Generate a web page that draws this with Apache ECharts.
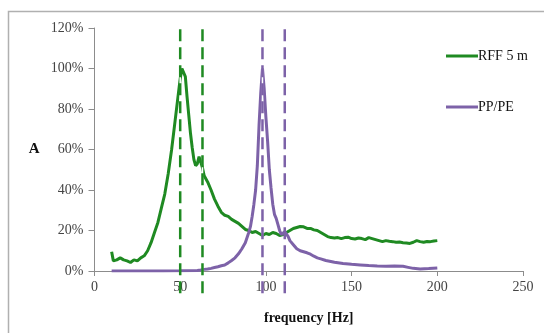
<!DOCTYPE html>
<html>
<head>
<meta charset="utf-8">
<script src="https://cdn.jsdelivr.net/npm/echarts@6/dist/echarts.min.js"></script>
<style>
html,body{margin:0;padding:0;background:#fff;}
#c{width:544px;height:333px;}
</style>
</head>
<body>
<div id="c"></div>
<script>
// RFF 5 m : frequency (Hz) and amplitude (%)
const rffFreq = [10,11,13,15,17,19,21,23,25,27,29,31,33,35,37,39,41,43,45,47,49,50,51,52,53,54,55,56,57,58,59,60,61,62,63,64,66,68,70,72,74,76,78,80,82,84,86,88,90,92,94,96,98,100,102,104,106,108,110,112,114,116,118,120,122,124,126,128,130,132,134,136,138,140,142,144,146,148,150,152,154,156,158,160,162,164,166,168,170,172,174,176,178,180,182,184,186,188,190,192,194,196,198,200];
const rffVal = [9.5,5,5.5,6.5,5.5,5,4.2,5.5,5,6.5,7.5,10,14,19,24,31,38,48,60,74,88,95,100,99.5,96,86,77,68,61,55,52,53,56.5,57,51,47,44,40,35.5,32,29,27.5,27,25.5,24.5,23.5,22,20.5,20,19,19.5,18.5,17.5,18.5,18,19,18.5,17.5,18,19,20,21,21.5,22,21.8,21,21,20.3,20,19,18,17,16.5,16.3,16.5,16,16.5,16.7,16,15.8,16.3,16,15.5,16.5,16,15.5,15,14.5,15,14.7,14.5,14.2,14.3,14,13.8,13.6,14.2,15,14.5,14.2,14.6,14.5,14.8,15];

// PP/PE : frequency (Hz) and amplitude (%)
const ppFreq = [10,20,30,40,50,60,62,64,66,68,70,72,74,76,78,80,82,84,86,88,90,91,92,93,94,95,96,97,98,99,100,101,102,103,104,105,106,107,108,109,110,111,112,113,114,116,118,120,122,124,126,128,130,132,135,140,145,150,155,160,165,170,175,180,183,186,190,195,200];
const ppVal = [0,0,0,0,0.1,0.3,0.5,0.8,1,1.3,1.7,2.1,2.6,3,4,5.2,6.5,8.5,11,14,19,22,27,33,40,52,72,88,100,90,76,64,50,41,33,28,26,23,20,18,18.5,19.5,20,17,15,13,11,10,9.5,9,8.3,7.3,6.5,6,5.2,4.3,3.7,3.3,3,2.7,2.5,2.4,2.5,2.3,1.8,1.3,1,1.2,1.5];

// vertical reference frequencies (Hz)
const rffMarks = [50, 63];
const ppMarks = [98, 111];
// vertical extent of the reference lines (% units)
const markSpan = [-11, 120];

const xTicks = [0, 50, 100, 150, 200, 250];
const yTicks = [0, 20, 40, 60, 80, 100, 120];

const GREEN = '#1f8a22';
const PURPLE = '#7d62a8';
const FONT = '"Liberation Serif","DejaVu Serif",serif';

function pairs(xs, ys){ return xs.map((x,i)=>[x, ys[i]]); }

function dashSeries(freqs, color){
  return {
    type:'custom', silent:true, clip:false, z:3,
    data: freqs.map(f=>[f]),
    encode:{x:0},
    renderItem:function(params, api){
      const f = api.value(0);
      const p1 = api.coord([f, markSpan[0]]);
      const p2 = api.coord([f, markSpan[1]]);
      const shape = {x1:p1[0], y1:p1[1], x2:p2[0], y2:p2[1]};
      return {
        type:'group',
        children:[
          {type:'line', shape:shape, style:{stroke:'#ffffff', lineWidth:1.5, fill:null}},
          {type:'line', shape:shape, style:{stroke:color, lineWidth:2.5, lineDash:[12,6], fill:null}}
        ]
      };
    }
  };
}

const chart = echarts.init(document.getElementById('c'), null, {renderer:'canvas'});
chart.setOption({
  backgroundColor:'#fff',
  animation:false,
  graphic:[{type:'rect', shape:{x:8.5,y:11.5,width:600,height:400}, style:{fill:'none', stroke:'#b0b0b0', lineWidth:1.5}, silent:true}],
  grid:{left:94.5, right:21, top:28, bottom:62},
  legend:{
    orient:'vertical', left:441, top:44, itemWidth:32, itemHeight:3, itemGap:37, icon:'rect',
    textStyle:{fontFamily:FONT, fontSize:14, color:'#111', padding:[0,0,0,-5]},
    data:['RFF 5 m','PP/PE']
  },
  xAxis:{
    type:'value', min:xTicks[0], max:xTicks[xTicks.length-1], interval:50,
    name:'frequency [Hz]', nameLocation:'middle', nameGap:40,
    nameTextStyle:{fontFamily:FONT, fontSize:14, fontWeight:'bold', color:'#111'},
    axisLine:{show:true, lineStyle:{color:'#8c8c8c', width:1}},
    axisTick:{show:true, length:5, lineStyle:{color:'#8c8c8c'}},
    axisLabel:{margin:9, fontFamily:FONT, fontSize:14, color:'#444'},
    splitLine:{show:false}
  },
  yAxis:{
    type:'value', min:yTicks[0], max:yTicks[yTicks.length-1], interval:20,
    name:'A', nameLocation:'middle', nameRotate:0, nameGap:55,
    nameTextStyle:{fontFamily:FONT, fontSize:15, fontWeight:'bold', color:'#111'},
    axisLine:{show:true, lineStyle:{color:'#8c8c8c', width:1}},
    axisTick:{show:true, length:6, lineStyle:{color:'#8c8c8c'}},
    axisLabel:{margin:11, fontFamily:FONT, fontSize:14, color:'#444', formatter:'{value}%'},
    splitLine:{show:false}
  },
  series:[
    {
      name:'RFF 5 m', type:'line', data:pairs(rffFreq, rffVal), showSymbol:false, z:2,
      lineStyle:{color:GREEN, width:3}, itemStyle:{color:GREEN}
    },
    {
      name:'PP/PE', type:'line', data:pairs(ppFreq, ppVal), showSymbol:false, z:2,
      lineStyle:{color:PURPLE, width:3}, itemStyle:{color:PURPLE}
    },
    dashSeries(rffMarks, GREEN),
    dashSeries(ppMarks, PURPLE)
  ]
});
</script>
</body>
</html>
